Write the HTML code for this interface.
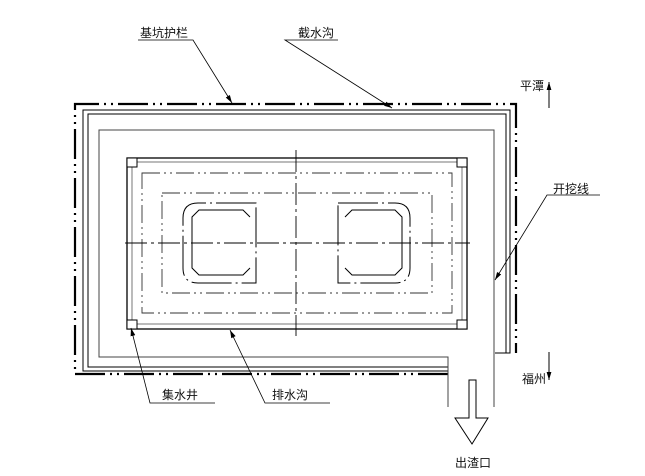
<!DOCTYPE html>
<html><head><meta charset="utf-8"><style>
html,body{margin:0;padding:0;background:#fff;}
svg{display:block;}
text{font-family:"Liberation Sans","Noto Sans CJK SC",sans-serif;font-size:12px;fill:#111;}
</style></head><body>
<svg width="645" height="476" viewBox="0 0 645 476" xmlns="http://www.w3.org/2000/svg">
<defs>
<marker id="ar" viewBox="0 0 10 10" refX="10" refY="5" markerWidth="8" markerHeight="8" orient="auto-start-reverse" markerUnits="userSpaceOnUse"><path d="M0,2 L10,5 L0,8 z" fill="#000"/></marker>
</defs>
<g fill="none" stroke="#000">
<!-- outer guardrail, dash-dot-dot thick -->
<path d="M448,374 L75,374 L75,104 L516,104 L516,353" stroke-width="2.2" stroke-dasharray="30,5,2,5,2,5"/>
<!-- intercept ditch lines -->
<path d="M448,371 L83,371 L83,110 L510,110 L510,353 L495,353" stroke-width="1"/>
<path d="M448,367 L88,367 L88,114 L506,114 L506,353" stroke-width="1"/>
<path d="M448,407 L448,357 L99,357 L99,130 L494,130 L494,407" stroke-width="1" stroke="#444"/>
<!-- inner pit double line -->
<rect x="127" y="158" width="340" height="171" stroke-width="1.3"/>
<rect x="132" y="162" width="330" height="162" stroke-width="0.8" stroke="#555"/>
<rect x="127" y="158" width="10" height="9" stroke-width="1" fill="#fff"/>
<rect x="457" y="158" width="10" height="9" stroke-width="1" fill="#fff"/>
<rect x="127" y="320" width="10" height="9" stroke-width="1" fill="#fff"/>
<rect x="457" y="320" width="10" height="9" stroke-width="1" fill="#fff"/>
<!-- dash-dot rectangles -->
<rect x="142" y="173" width="310" height="140" stroke-width="0.9" stroke="#333" stroke-dasharray="18,4,2,4,2,4"/>
<rect x="162" y="193" width="270" height="100" stroke-width="0.9" stroke="#333" stroke-dasharray="18,4,2,4,2,4"/>
<!-- centre lines -->
<line x1="125" y1="243" x2="470" y2="243" stroke-width="0.9" stroke-dasharray="22,4,3,4"/>
<line x1="296" y1="150" x2="296" y2="336" stroke-width="0.9" stroke-dasharray="22,4,3,4"/>
<!-- left pit -->
<path d="M256,203 L198,203 Q183,203 183,218 L183,268 Q183,283 198,283 L256,283 Z" stroke-width="1" stroke-dasharray="40,4,2,4"/>
<path d="M250,217 L243,210 L199,210 L192,217 L192,268 L199,275 L243,275 L250,268" stroke-width="1"/>
<!-- right pit -->
<path d="M338,203 L395,203 Q410,203 410,218 L410,268 Q410,283 395,283 L338,283 Z" stroke-width="1" stroke-dasharray="40,4,2,4"/>
<path d="M345,217 L352,210 L395,210 L402,217 L402,268 L395,275 L352,275 L345,268" stroke-width="1"/>
<!-- outlet arrow -->
<path d="M469,380 L476,380 L476,418 L488,418 L472,444 L455,418 L469,418 Z" stroke-width="1"/>
<!-- direction arrows -->
<line x1="549" y1="108" x2="549" y2="82" stroke-width="1" marker-end="url(#ar)"/>
<line x1="549" y1="352" x2="549" y2="380" stroke-width="1" marker-end="url(#ar)"/>
<!-- leaders -->
<polyline points="138,40 193,40 232,103" stroke-width="0.8" marker-end="url(#ar)"/>
<polyline points="338,40 285,40 392,108" stroke-width="0.8" marker-end="url(#ar)"/>
<polyline points="600,195 547,195 495,280" stroke-width="0.8" marker-end="url(#ar)"/>
<polyline points="215,403 150,403 131,328" stroke-width="0.8" marker-end="url(#ar)"/>
<polyline points="330,403 265,403 230,330" stroke-width="0.8" marker-end="url(#ar)"/>
</g>
<text x="140" y="37">基坑护栏</text>
<text x="298" y="37">截水沟</text>
<text x="553" y="193">开挖线</text>
<text x="520" y="90">平潭</text>
<text x="522" y="383">福州</text>
<text x="162" y="399">集水井</text>
<text x="272" y="399">排水沟</text>
<text x="455" y="467">出渣口</text>
</svg>
</body></html>
